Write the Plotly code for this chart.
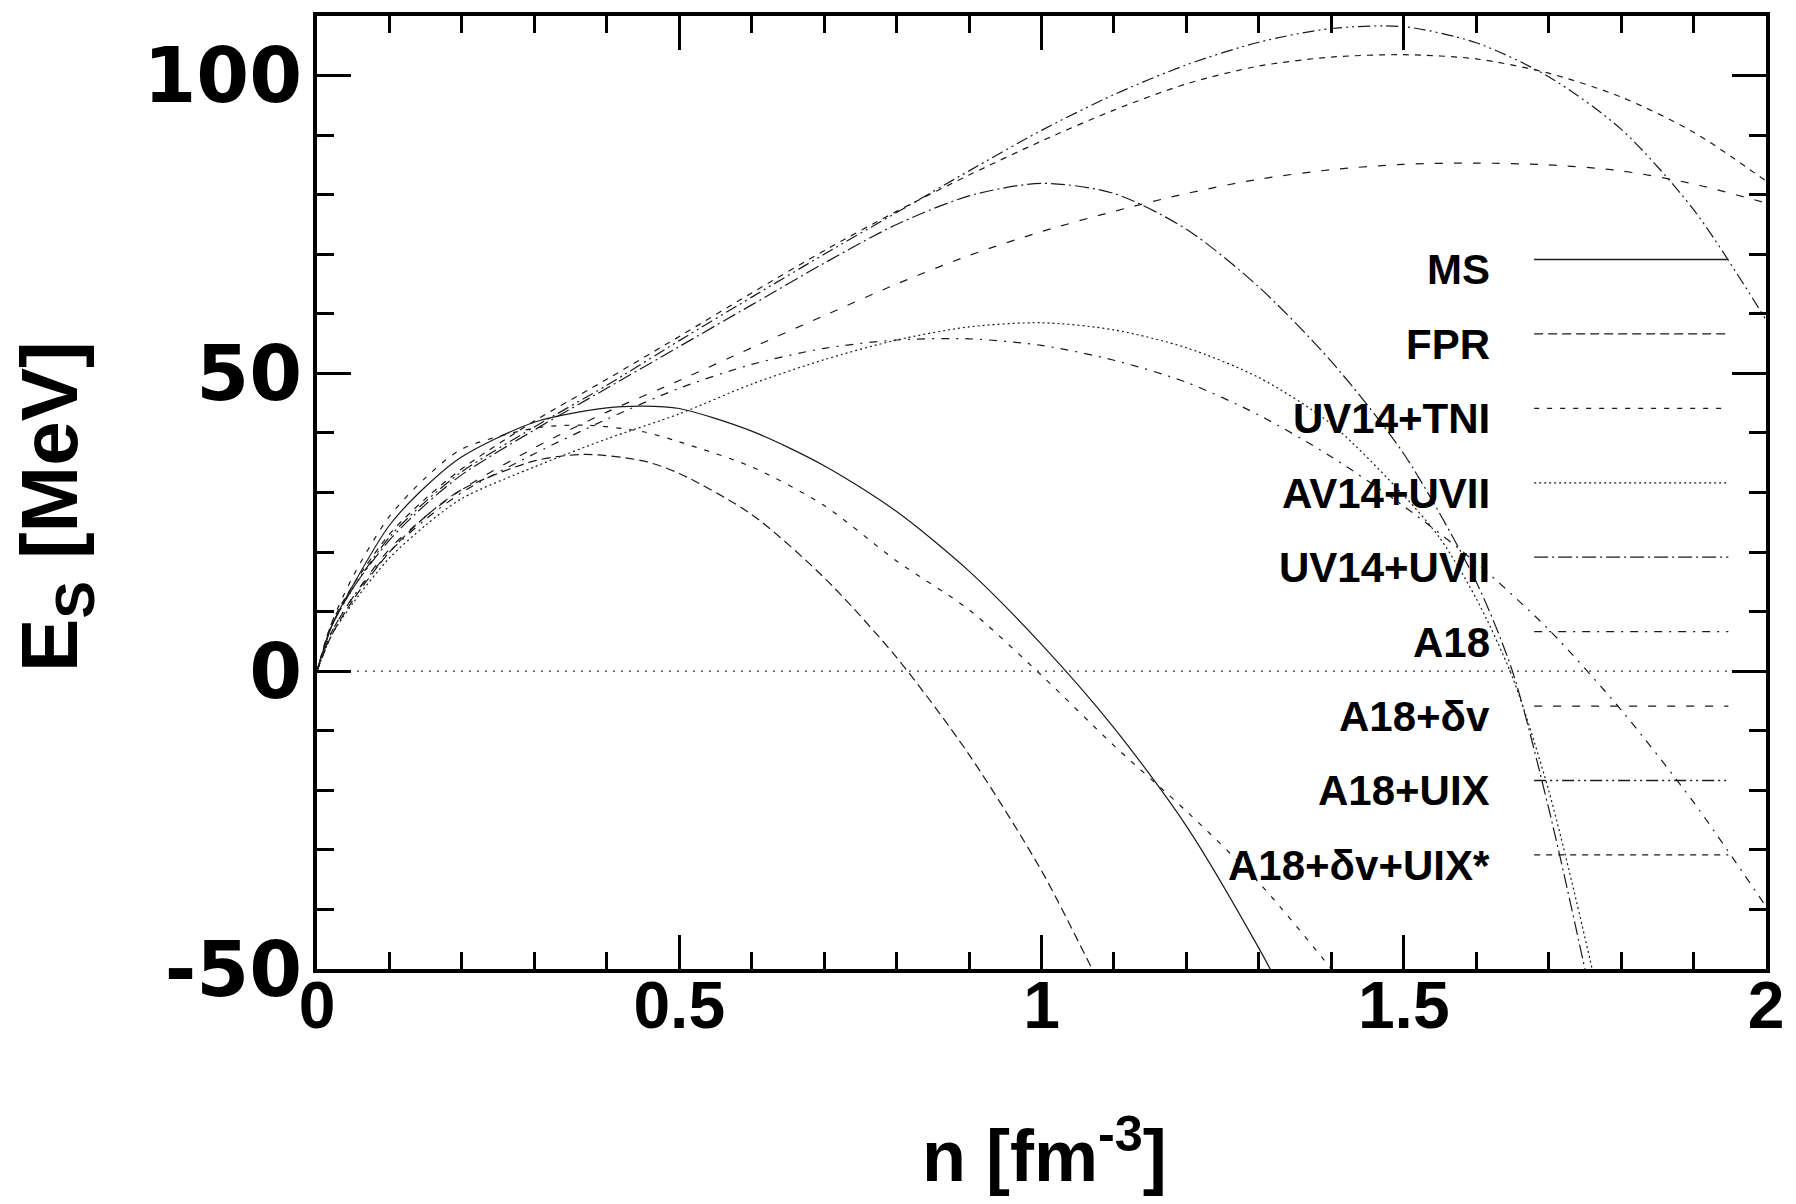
import plotly.graph_objects as go

# Symmetry energy E_S(n) for several nuclear-matter models
ms_n = [0, 0.02, 0.05, 0.1, 0.15, 0.2, 0.3, 0.4, 0.45, 0.5, 0.6, 0.7, 0.8, 0.9, 1.0, 1.1, 1.2, 1.3, 1.35]
ms_e = [0, 7.5, 14.5, 24.5, 31, 36, 41.8, 44.2, 44.5, 44.1, 40.3, 34.5, 26.8, 16.8, 4.5, -9.5, -26, -46.5, -58]

fpr_n = [0, 0.02, 0.05, 0.1, 0.15, 0.2, 0.3, 0.37, 0.45, 0.5, 0.6, 0.7, 0.8, 0.9, 1.0, 1.07, 1.1]
fpr_e = [0, 6, 12, 20, 26, 30.5, 35.3, 36.4, 35.3, 33.2, 26.3, 15.7, 2.3, -14, -33.5, -50, -57]

tni_n = [0, 0.02, 0.05, 0.1, 0.15, 0.2, 0.3, 0.37, 0.45, 0.5, 0.6, 0.7, 0.8, 0.9, 1.0, 1.1, 1.2, 1.3, 1.4, 1.45]
tni_e = [0, 8, 16, 26, 32.5, 37.3, 40.8, 41.3, 40.2, 38.5, 34.3, 27.8, 18.5, 10.3, -0.7, -12.5, -23.5, -35.5, -50, -58]

av14_n = [0, 0.02, 0.05, 0.1, 0.15, 0.2, 0.3, 0.4, 0.5, 0.6, 0.7, 0.8, 0.9, 1.0, 1.1, 1.2, 1.3, 1.4, 1.5, 1.55, 1.6, 1.65, 1.7, 1.76, 1.78]
av14_e = [0, 6, 11.5, 19, 24.5, 29, 34.3, 39, 43.2, 48.2, 52.3, 55.6, 57.8, 58.5, 57.3, 54.3, 49.3, 41.5, 29.5, 22.3, 12.2, -1, -20, -50, -62]

uv14_n = [0, 0.02, 0.05, 0.1, 0.15, 0.2, 0.3, 0.4, 0.5, 0.6, 0.7, 0.8, 0.9, 1.0, 1.1, 1.2, 1.3, 1.4, 1.5, 1.6, 1.65, 1.7, 1.75, 1.77]
uv14_e = [0, 7.5, 14, 22, 28, 33, 40.5, 47.5, 54.5, 61.5, 68.5, 75, 79.8, 81.9, 80.2, 74.2, 64.5, 52, 36.5, 15, 0, -23, -50, -62]

n_grid = [0, 0.02, 0.05, 0.1, 0.15, 0.2, 0.3, 0.4, 0.5, 0.6, 0.7, 0.8, 0.9, 1.0,
          1.1, 1.2, 1.3, 1.4, 1.5, 1.6, 1.7, 1.8, 1.9, 2.0]
a18_e = [0, 6.5, 12.5, 20, 25.5, 30, 36.5, 42.3, 47.5, 51.5, 54.2, 55.6, 55.8, 54.7,
         52.2, 48.5, 43, 36, 27.7, 18.2, 7, -6.5, -22, -39.5]
a18dv_e = [0, 6.5, 12.5, 20.5, 26, 30.5, 37.5, 43.5, 48.8, 54.3, 59.7, 65, 69.8, 73.8,
           77.2, 80.2, 82.6, 84.2, 85.1, 85.3, 85, 84, 81.8, 78.6]
a18uix_e = [0, 7.5, 14, 22.5, 28.5, 33.5, 41, 48, 55.5, 62.8, 70, 77, 84, 90.8,
            96.8, 101.8, 105.6, 107.9, 108.2, 105.5, 99.8, 91, 77.5, 59]
apr_e = [0, 8, 14.5, 23, 29, 34, 42, 49, 56.2, 63.5, 70.6, 77.2, 83.3, 89,
         94.2, 98.6, 101.6, 103.1, 103.5, 102.8, 100.4, 96.4, 90.5, 82.3]

labels = ["MS", "FPR", "UV14+TNI", "AV14+UVII", "UV14+UVII",
          "A18", "A18+δv", "A18+UIX", "A18+δv+UIX*"]
series_x = [ms_n, fpr_n, tni_n, av14_n, uv14_n, n_grid, n_grid, n_grid, n_grid]
series_y = [ms_e, fpr_e, tni_e, av14_e, uv14_e, a18_e, a18dv_e, a18uix_e, apr_e]
dashes = ["solid", "9px,5px", "5px,8px", "2px,3px", "14px,4px,2px,4px",
          "8px,7px,2px,7px", "8px,11px", "12px,4px,2px,4px,2px,4px", "6px,6px"]

LINE_COLOR = "#1a1a1a"
SANS = "Liberation Sans, Arial"

fig = go.Figure()
for x, y, d, name in zip(series_x, series_y, dashes, labels):
    fig.add_trace(go.Scatter(
        x=x, y=y, mode="lines", name=name, showlegend=False,
        line=dict(color=LINE_COLOR, width=1.2, dash=d, shape="spline", smoothing=0.8),
    ))

# dotted zero line
fig.add_shape(type="line", xref="x", yref="y", x0=0, x1=2, y0=0, y1=0,
              line=dict(color="#333", width=1.2, dash="2px,6px"), layer="below")

# key: right-aligned labels with line samples to their right
key_top, key_step = 0.7445, 0.0781
for i, (name, d) in enumerate(zip(labels, dashes)):
    yy = key_top - i * key_step
    fig.add_shape(type="line", xref="paper", yref="paper", x0=0.840, x1=0.974,
                  y0=yy, y1=yy, line=dict(color=LINE_COLOR, width=1.3, dash=d))
    fig.add_annotation(xref="paper", yref="paper", x=0.811, y=yy - 0.011,
                       text=name, showarrow=False, xanchor="right", yanchor="middle",
                       font=dict(family=SANS, size=42, color="black", weight="bold"))

fig.add_annotation(xref="paper", yref="paper", x=-0.18, y=0.485, textangle=-90,
                   text="E<sub>S</sub> [MeV]", showarrow=False,
                   xanchor="center", yanchor="middle",
                   font=dict(family=SANS, size=80, color="black", weight="bold"))
fig.add_annotation(xref="paper", yref="paper", x=0.502, y=-0.19,
                   text="n [fm<sup>-3</sup>]", showarrow=False,
                   xanchor="center", yanchor="middle",
                   font=dict(family=SANS, size=72, color="black", weight="bold"))

axis_common = dict(showgrid=False, zeroline=False, showline=True, linewidth=3.5,
                   linecolor="black", mirror="ticks", ticks="inside",
                   tickwidth=3, tickcolor="black")

fig.update_xaxes(range=[0, 2], tickmode="array", tickvals=[0, 0.5, 1, 1.5, 2],
                 ticktext=["0", "0.5", "1", "1.5", "2"], ticklen=34,
                 minor=dict(ticks="inside", ticklen=17, tickwidth=3, tickcolor="black",
                            tickmode="linear", tick0=0, dtick=0.1),
                 tickfont=dict(family=SANS, size=66, color="black", weight="bold"),
                 ticklabelstandoff=-24, **axis_common)
fig.update_yaxes(range=[-50, 110], tickmode="array", tickvals=[-50, 0, 50, 100],
                 ticktext=["-50", "0", "50", "100"], ticklen=34,
                 minor=dict(ticks="inside", ticklen=17, tickwidth=3, tickcolor="black",
                            tickmode="linear", tick0=0, dtick=10),
                 tickfont=dict(family="DejaVu Sans, Liberation Sans", size=76,
                               color="black", weight="bold"),
                 ticklabelstandoff=-4, **axis_common)

fig.update_layout(width=1796, height=1204, plot_bgcolor="white", paper_bgcolor="white",
                  margin=dict(l=317, r=22, t=14, b=235), showlegend=False)

fig.write_html("out.html")
